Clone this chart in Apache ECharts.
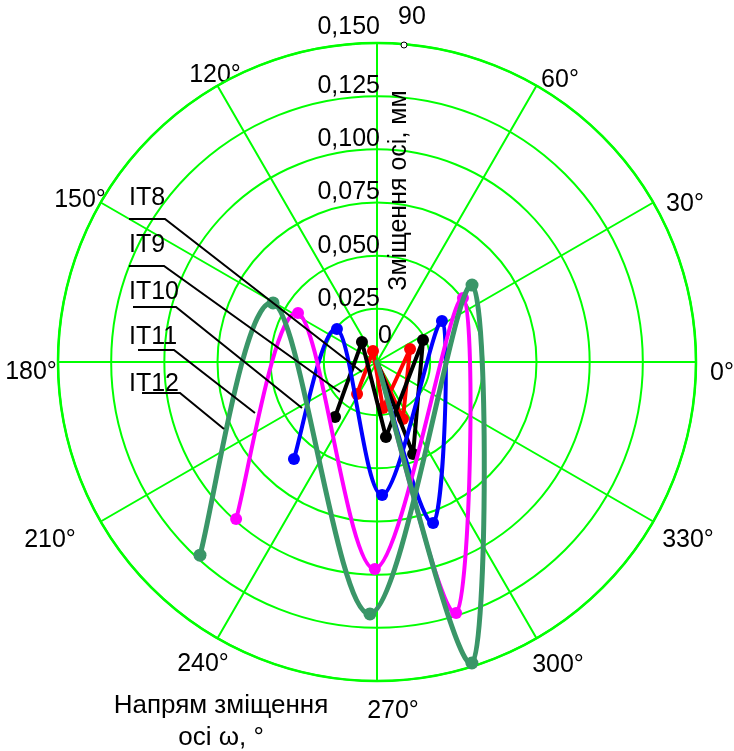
<!DOCTYPE html>
<html><head><meta charset="utf-8">
<script src="https://cdn.jsdelivr.net/npm/echarts@6/dist/echarts.min.js"></script>
<style>html,body{margin:0;padding:0;background:#fff}#c{width:734px;height:751px}</style>
</head><body><div id="c"></div>
<script>
// ---------------- data ----------------
const seriesNames = ['IT8', 'IT9', 'IT10', 'IT11', 'IT12'];
// direction of axis displacement (deg) and displacement (mm); last point returns to the pole
const angleIT8  = [238.0, 110.0, 277.4, 21.5, 294.5, 0];
const radiusIT8 = [0.0177, 0.0055, 0.0218, 0.0167, 0.0294, 0];
const angleIT9  = [232.6, 126.9, 276.8, 25.6, 291.4, 0];
const radiusIT9 = [0.0325, 0.0118, 0.0355, 0.0240, 0.0465, 0];
const angleIT10  = [229.4, 140.5, 272.2, 32.2, 289.2, 0];
const radiusIT10 = [0.0600, 0.0244, 0.0626, 0.0361, 0.0802, 0];
const angleIT11  = [228.1, 148.2, 269.4, 36.7, 287.5, 0];
const radiusIT11 = [0.0992, 0.0437, 0.0973, 0.0504, 0.1237, 0];
const angleIT12  = [227.5, 150.4, 268.4, 39.0, 287.5, 0];
const radiusIT12 = [0.1232, 0.0562, 0.1185, 0.0575, 0.1484, 0];

const radiusTicks = [0, 0.025, 0.05, 0.075, 0.1, 0.125, 0.15];
const radiusTickLabels = ['0', '0,025', '0,050', '0,075', '0,100', '0,125', '0,150'];
const angleTicks = [90, 120, 150, 180, 210, 240, 270, 300, 330, 360, 390, 420];
const angleTickLabels = ['90', '120°', '150°', '180°', '210°', '240°', '270°', '300°', '330°', '0°', '30°', '60°'];

// ---------------- styling ----------------
const FONT = '"Liberation Sans", Arial, sans-serif';
const GRID = '#00ff00';
const colors = ['#ff0000', '#000000', '#0000ff', '#ff00ff', '#3a9668'];
const widths = [4, 4, 4, 4, 5];
const symSizes = [12, 12, 12, 12, 13];
const curved = [false, false, true, true, true];
const angles = [angleIT8, angleIT9, angleIT10, angleIT11, angleIT12];
const radii = [radiusIT8, radiusIT9, radiusIT10, radiusIT11, radiusIT12];

// label centre positions relative to the pole (px), in angleTicks order
const angleLabelPos = [[35, -345], [-162, -287], [-297, -162], [-346, 10], [-327, 178], [-174, 302],
  [16, 349], [181, 303], [311, 178], [345, 11], [308, -158], [183, -282]];
const R = 319, ANG_FONT = 25, LABEL_MARGIN = -80;
const mctx = document.createElement('canvas').getContext('2d');
mctx.font = ANG_FONT + 'px ' + FONT;
const angRich = {};
angleTicks.forEach((v, i) => {
  const th = (v % 360) * Math.PI / 180;
  const c = Math.cos(th), s = Math.sin(th);
  const w = mctx.measureText(angleTickLabels[i]).width, h = ANG_FONT;
  const rp = R + LABEL_MARGIN;
  const sx = angleLabelPos[i][0] - rp * c, sy = angleLabelPos[i][1] + rp * s;
  const hA = Math.abs(c) * rp / R < 0.3 ? 'center' : (c > 0 ? 'left' : 'right');
  const vA = Math.abs(s) * rp / R < 0.3 ? 'middle' : (s < 0 ? 'top' : 'bottom');
  let pl = 0, pr = 0, pt = 0, pb = 0;
  if (hA === 'left') pl = sx - w / 2; else if (hA === 'right') pr = -sx - w / 2; else { if (sx > 0) pl = 2 * sx; else pr = -2 * sx; }
  if (vA === 'top') pt = 2 * (sy - h / 2); else if (vA === 'bottom') pb = 2 * (-sy - h / 2); else { if (sy > 0) pt = 2 * sy; else pb = -2 * sy; }
  angRich['a' + i] = {
    fontSize: ANG_FONT, fontFamily: FONT, color: '#000', lineHeight: h,
    padding: [Math.max(0, pt), Math.max(0, pr), Math.max(0, pb), Math.max(0, pl)]
  };
});

const radRich = {
  v: { fontSize: 25, fontFamily: FONT, color: '#000', width: 70, align: 'right', lineHeight: 20 },
  t: { fontSize: 25, fontFamily: FONT, color: '#000', width: 70, align: 'right', lineHeight: 20, padding: [0, 0, 12, 0] },
  z: { fontSize: 25, fontFamily: FONT, color: '#000', width: 82, align: 'right', lineHeight: 20, padding: [0, 0, 32, 0] }
};

function curveRenderer(k) {
  return function (params, api) {
    if (params.dataIndexInside !== 0) return null;
    const n = params.dataInsideLength;
    const P = [];
    for (let j = 0; j < n; j++) P.push(api.coord([api.value(0, j), api.value(1, j)]));
    const children = [];
    for (let i = 0; i < n - 1; i++) {
      const p0 = P[Math.max(i - 1, 0)], p1 = P[i], p2 = P[i + 1], p3 = P[Math.min(i + 2, n - 1)];
      children.push({
        type: 'bezierCurve',
        shape: {
          x1: p1[0], y1: p1[1], x2: p2[0], y2: p2[1],
          cpx1: p1[0] + (p2[0] - p0[0]) / 6, cpy1: p1[1] + (p2[1] - p0[1]) / 6,
          cpx2: p2[0] - (p3[0] - p1[0]) / 6, cpy2: p2[1] - (p3[1] - p1[1]) / 6
        },
        style: { stroke: colors[k], lineWidth: widths[k], fill: null, lineCap: 'round' }
      });
    }
    return { type: 'group', children };
  };
}

const series = [];
seriesNames.forEach((name, k) => {
  const pts = angles[k].map((a, j) => [radii[k][j], a]);
  if (curved[k]) {
    series.push({ name, type: 'custom', coordinateSystem: 'polar', data: pts,
      renderItem: curveRenderer(k), z: 2 + 2 * k, silent: true });
    series.push({ name, type: 'scatter', coordinateSystem: 'polar', symbol: 'circle',
      symbolSize: symSizes[k], itemStyle: { color: colors[k], opacity: 1 },
      data: pts.filter(p => p[0] > 0), z: 3 + 2 * k });
  } else {
    series.push({ name, type: 'line', coordinateSystem: 'polar', smooth: false,
      symbol: 'circle', symbolSize: symSizes[k],
      itemStyle: { color: colors[k] }, lineStyle: { color: colors[k], width: widths[k] },
      data: pts.map(p => p[0] > 0 ? { value: p } : { value: p, symbol: 'none' }), z: 2 + 2 * k });
  }
});

const legendLines = [
  { text: 'IT8',  pts: [[129, 219], [165, 219], [362, 372]], y: 186 },
  { text: 'IT9',  pts: [[129, 266], [164, 266], [340, 392]], y: 233 },
  { text: 'IT10', pts: [[133, 307], [176, 307], [302, 408]], y: 280 },
  { text: 'IT11', pts: [[138, 350], [174, 350], [255, 413]], y: 325 },
  { text: 'IT12', pts: [[142, 393], [180, 393], [224, 429]], y: 372 }
];
const graphic = [];
legendLines.forEach(l => {
  graphic.push({ type: 'text', left: 129, top: l.y, z: 50,
    style: { text: l.text, font: '25px ' + FONT, fill: '#000' } });
  graphic.push({ type: 'polyline', z: 50, shape: { points: l.pts },
    style: { stroke: '#000', lineWidth: 2, fill: null } });
});
graphic.push({ type: 'text', z: 50, x: 221, y: 690,
  style: { text: 'Напрям зміщення\nосі ω, °', font: '26px ' + FONT, fill: '#000', align: 'center', lineHeight: 32 } });
graphic.push({ type: 'circle', z: 50, shape: { cx: 404, cy: 45, r: 3 },
  style: { fill: '#fff', stroke: '#000', lineWidth: 1 } });

const chart = echarts.init(document.getElementById('c'), null, { renderer: 'canvas' });
chart.setOption({
  animation: false,
  backgroundColor: '#fff',
  polar: { center: [377, 362], radius: R },
  angleAxis: {
    type: 'value', startAngle: 90, clockwise: false, min: 90, max: 450, interval: 30,
    axisLine: { show: true, lineStyle: { color: GRID, width: 2.5 } },
    axisTick: { show: false },
    splitLine: { show: true, lineStyle: { color: GRID, width: 2 } },
    axisLabel: {
      margin: LABEL_MARGIN,
      formatter: v => { const i = angleTicks.indexOf(v); return i < 0 ? '' : '{a' + i + '|' + angleTickLabels[i] + '}'; },
      rich: angRich
    }
  },
  radiusAxis: {
    type: 'value', min: 0, max: 0.15, interval: 0.025,
    axisLine: { show: true, lineStyle: { color: GRID, width: 2 } },
    axisTick: { show: false },
    splitLine: { show: true, lineStyle: { color: GRID, width: 2 } },
    name: 'Зміщення осі, мм', nameLocation: 'middle', nameGap: 10, nameMoveOverlap: false,
    nameTextStyle: { fontSize: 25, fontFamily: FONT, color: '#000', padding: [0, 0, 0, 24] },
    axisLabel: {
      margin: 67, align: 'left', verticalAlign: 'bottom',
      formatter: v => {
        const i = radiusTicks.findIndex(t => Math.abs(t - v) < 1e-9);
        if (i < 0) return '';
        const key = i === 0 ? 'z' : (i === radiusTicks.length - 1 ? 't' : 'v');
        return '{' + key + '|' + radiusTickLabels[i] + '}';
      },
      rich: radRich
    }
  },
  graphic,
  series
});
</script>
</body></html>
